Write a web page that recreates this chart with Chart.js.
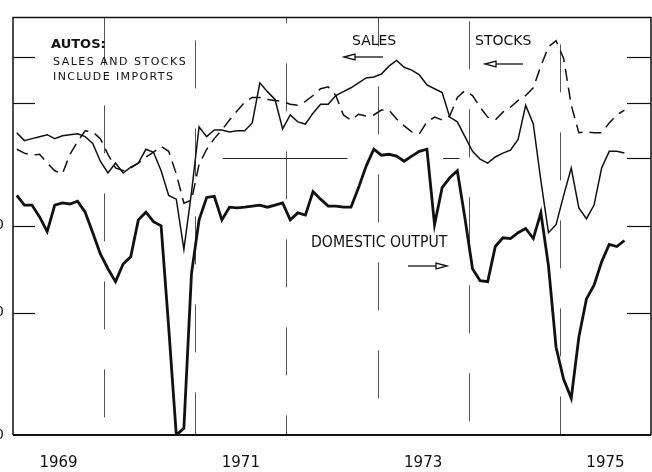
<!DOCTYPE html>
<html><head><meta charset="utf-8">
<script src="https://cdn.jsdelivr.net/npm/chart.js@4"></script>
<style>html,body{margin:0;padding:0;background:#fff;}#wrap{width:652px;height:472px;position:relative;overflow:hidden;}</style>
</head><body><div id="wrap"><canvas id="c" width="652" height="472"></canvas></div>
<script>
// Monthly series, January 1969 onward (thousands of units, log scale)
const startYear = 1969;
const salesValues = [1089,1061,1068,1075,1082,1068,1078,1082,1085,1075,1051,991,
  953,985,953,972,985,1031,1021,960,885,874,740,894,
  1110,1075,1099,1099,1092,1096,1096,1125,1285,1248,1216,1103,
  1155,1129,1121,1162,1197,1197,1232,1248,1264,1285,1306,1310,
  1323,1358,1384,1353,1340,1319,1276,1260,1244,1147,1129,1075,
  1024,998,985,1005,1018,1028,1065,1193,1121,929,782,803,
  885,969,849,819,857,969,1024,1024,1018];
const stocksValues = [1031,1018,1011,1014,985,960,950,1014,1058,1096,1092,1068,
  1014,969,960,969,985,1005,1021,1041,1024,950,862,871,
  981,1031,1068,1099,1136,1170,1205,1224,1224,1216,1212,1208,
  1197,1193,1208,1232,1260,1268,1232,1155,1136,1158,1151,1155,
  1174,1174,1140,1114,1092,1085,1129,1147,1136,1151,1224,1252,
  1232,1185,1147,1136,1166,1185,1212,1232,1264,1358,1448,1477,
  1393,1193,1089,1092,1089,1089,1125,1155,1174];
const outputValues = [885,857,857,824,785,857,863,860,868,837,782,729,
  694,665,705,722,816,837,811,800,571,400,409,683,
  816,879,882,816,851,849,851,854,857,851,857,863,
  816,835,829,896,874,854,854,851,851,908,975,1031,
  1011,1014,1008,991,1008,1024,1031,803,908,938,960,821,
  694,667,665,747,769,767,782,793,767,835,701,535,
  481,452,553,628,657,710,752,747,762];
const yearLabels = ['1969','1971','1973','1975'];
const yearLabelPositions = [1969.5,1971.5,1973.5,1975.5];
const leftAxisLabels = [400,600,800];
const leftTickValues = [600,800,1200,1400];
const rightTickValues = [600,800,1000,1200,1400];
const gridYears = [1970,1971,1972,1973,1974,1975];

const toPoints = arr => arr.map((v,i)=>({x:startYear+(i+0.5)/12, y:v}));
const FONT = '"DejaVu Sans", sans-serif';

function arrow(ctx, xTail, xTip, yy){
  const dir = xTip > xTail ? 1 : -1;
  const hl = 11, hh = 3;
  ctx.beginPath(); ctx.moveTo(xTail, yy); ctx.lineTo(xTip - dir*hl, yy); ctx.stroke();
  ctx.beginPath(); ctx.moveTo(xTip, yy); ctx.lineTo(xTip - dir*hl, yy-hh); ctx.lineTo(xTip - dir*hl, yy+hh); ctx.closePath();
  ctx.fillStyle='#fff'; ctx.fill(); ctx.stroke();
}

const deco = {
  id:'deco',
  beforeDatasetsDraw(chart){
    const {ctx, chartArea:a, scales:{x,y}} = chart;
    ctx.save();
    ctx.strokeStyle='#555'; ctx.lineWidth=1; ctx.setLineDash([48,40]);
    gridYears.forEach((yr,k)=>{
      const px=Math.round(x.getPixelForValue(yr))+0.5;
      ctx.lineDashOffset = -((k*23)%88);
      ctx.beginPath(); ctx.moveTo(px,a.top); ctx.lineTo(px,a.bottom); ctx.stroke();
    });
    ctx.setLineDash([]);
    // horizontal reference at 1000
    const py = Math.round(y.getPixelForValue(1000))+0.5;
    ctx.strokeStyle='#222';
    [[1971.3,1972.67],[1973.72,1973.9]].forEach(([x0,x1])=>{
      ctx.beginPath(); ctx.moveTo(x.getPixelForValue(x0),py); ctx.lineTo(x.getPixelForValue(x1),py); ctx.stroke();
    });
    ctx.restore();
  },
  afterDatasetsDraw(chart){
    const {ctx, chartArea:a, scales:{x,y}} = chart;
    ctx.save();
    ctx.strokeStyle='#111'; ctx.lineWidth=1.5;
    ctx.beginPath(); ctx.moveTo(a.left,a.bottom); ctx.lineTo(a.left,a.top); ctx.lineTo(a.right,a.top); ctx.lineTo(a.right,a.bottom); ctx.stroke();
    ctx.lineWidth=2.2; ctx.beginPath(); ctx.moveTo(a.left,a.bottom); ctx.lineTo(a.right,a.bottom); ctx.stroke();
    ctx.lineWidth=1.2;
    leftTickValues.forEach(v=>{const py=Math.round(y.getPixelForValue(v))+0.5; ctx.beginPath(); ctx.moveTo(a.left,py); ctx.lineTo(a.left+22,py); ctx.stroke();});
    rightTickValues.forEach(v=>{const py=Math.round(y.getPixelForValue(v))+0.5; ctx.beginPath(); ctx.moveTo(a.right-24,py); ctx.lineTo(a.right,py); ctx.stroke();});
    // texts
    ctx.fillStyle='#111'; ctx.textBaseline='alphabetic'; ctx.textAlign='left';
    ctx.font='bold 13px '+FONT; ctx.fillText('AUTOS:',51,48);
    ctx.font='11px '+FONT; ctx.letterSpacing='1.5px'; ctx.fillText('SALES AND STOCKS',53,65);
    ctx.letterSpacing='1.4px'; ctx.fillText('INCLUDE IMPORTS',53,80);
    ctx.letterSpacing='0px';
    ctx.font='14px '+FONT; ctx.fillText('SALES',352,45); ctx.fillText('STOCKS',475,45);
    ctx.save(); ctx.translate(311,247); ctx.scale(0.88,1); ctx.font='16px '+FONT; ctx.fillText('DOMESTIC OUTPUT',0,0); ctx.restore();
    ctx.lineWidth=1.3; ctx.strokeStyle='#111';
    arrow(ctx,383,344,57);
    arrow(ctx,523,485,64);
    arrow(ctx,408,447,266);
    ctx.restore();
  }
};

new Chart(document.getElementById('c'),{
  type:'line',
  data:{datasets:[
    {label:'Sales', data:toPoints(salesValues), borderColor:'#111', borderWidth:1.5, pointRadius:0, tension:0},
    {label:'Stocks', data:toPoints(stocksValues), borderColor:'#111', borderWidth:1.5, borderDash:[12,7], pointRadius:0, tension:0},
    {label:'Domestic output', data:toPoints(outputValues), borderColor:'#111', borderWidth:2.8, pointRadius:0, tension:0}
  ]},
  options:{
    responsive:false, animation:false, devicePixelRatio:1,
    layout:{padding:{top:8,right:1,left:0,bottom:0}},
    plugins:{legend:{display:false}, tooltip:{enabled:false}},
    scales:{
      x:{type:'linear', min:1969, max:1976,
        grid:{display:false, drawTicks:false}, border:{display:false},
        afterBuildTicks:s=>{s.ticks=yearLabelPositions.map(v=>({value:v}));},
        afterFit:s=>{s.height=37;},
        ticks:{autoSkip:false, maxRotation:0, padding:19, color:'#111', font:{family:FONT,size:15},
          callback:(v)=>yearLabels[yearLabelPositions.indexOf(v)] ?? ''}},
      y:{type:'logarithmic', min:400, max:1596,
        grid:{display:false, drawTicks:false}, border:{display:false},
        afterBuildTicks:s=>{s.ticks=leftAxisLabels.map(v=>({value:v}));},
        afterFit:s=>{s.width=13;},
        ticks:{padding:9, color:'#111', font:{family:FONT,size:14}, callback:v=>String(v)}}
    }
  },
  plugins:[deco]
});
</script></body></html>
